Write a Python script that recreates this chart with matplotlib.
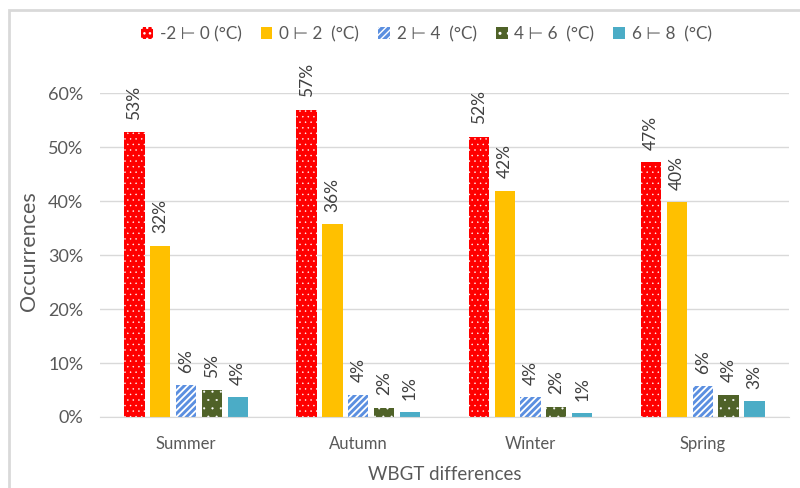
import matplotlib
matplotlib.use("Agg")
import matplotlib.pyplot as plt
import numpy as np
from matplotlib.patches import Rectangle

plt.rcParams["font.family"] = ["Lato", "DejaVu Sans"]

seasons = ["Summer", "Autumn", "Winter", "Spring"]
ranges = ["-2 ⊢ 0 (°C)", "0 ⊢ 2  (°C)", "2 ⊢ 4  (°C)", "4 ⊢ 6  (°C)", "6 ⊢ 8  (°C)"]
r_m2_0 = [0.528, 0.569, 0.519, 0.472]
r_0_2 = [0.317, 0.357, 0.419, 0.398]
r_2_4 = [0.059, 0.041, 0.037, 0.057]
r_4_6 = [0.050, 0.017, 0.019, 0.041]
r_6_8 = [0.037, 0.009, 0.007, 0.029]

series = [r_m2_0, r_0_2, r_2_4, r_4_6, r_6_8]
colors = ["#ff0000", "#ffc000", "#5b8fe0", "#4f6228", "#4bacc6"]
hatches = ["...", None, "/////", "..", None]
hatch_lw = [0.3, 1.0, 1.3, 0.3, 1.0]
txt = "#595959"

fig = plt.figure(figsize=(8, 4.88), dpi=100)
ax = fig.add_axes([0.125, 0.1455, 0.861, 0.6635])

x = np.arange(len(seasons))
step, width = 0.15, 0.118
for i, (vals, col, h) in enumerate(zip(series, colors, hatches)):
    pos = x + (i - 2) * step
    with plt.rc_context({"hatch.linewidth": hatch_lw[i]}):
        bars = ax.bar(pos, vals, width, color=col, label=ranges[i], hatch=h,
                      edgecolor="white" if h else col, linewidth=0, zorder=2)
    for b, v in zip(bars, vals):
        ax.annotate(f"{v:.0%}", (b.get_x() + b.get_width() / 2, v),
                    xytext=(0, 9), textcoords="offset points", rotation=90,
                    ha="center", va="bottom", fontsize=12.5, color="#404040",
                    annotation_clip=False)

ax.set_xlim(-0.5, 3.5)
ax.set_ylim(0, 0.6)
yt = np.arange(0, 0.61, 0.1)
ax.set_yticks(yt)
ax.set_yticklabels([f"{t:.0%}" for t in yt])
ax.set_xticks(x)
ax.set_xticklabels(seasons)
ax.tick_params(axis="both", length=0, colors=txt)
ax.tick_params(axis="x", pad=14, labelsize=12)
ax.tick_params(axis="y", pad=12, labelsize=13)
ax.grid(axis="y", color="#d9d9d9", lw=1, zorder=0)
for s in ["top", "right", "left"]:
    ax.spines[s].set_visible(False)
ax.spines["bottom"].set_color("#d9d9d9")
fig.text(29 / 800, 0.486, "Occurrences", rotation=90, ha="center", va="center",
         fontsize=15.5, color=txt)
ax.set_xlabel("WBGT differences", fontsize=13.5, color=txt, labelpad=10)

leg = ax.legend(loc="center", bbox_to_anchor=(0.474, 1.183), ncol=5, frameon=False,
                fontsize=12.3, handlelength=0.7, handleheight=0.7,
                handletextpad=0.4, columnspacing=1.1, labelcolor=txt)

# light frame around the chart area
fig.add_artist(Rectangle((9 / 800, -0.1), 1.2, 1 - 10 / 488 + 0.1,
                         transform=fig.transFigure, fill=False,
                         ec="#d9d9d9", lw=2))

fig.savefig("out.png", dpi=100)
